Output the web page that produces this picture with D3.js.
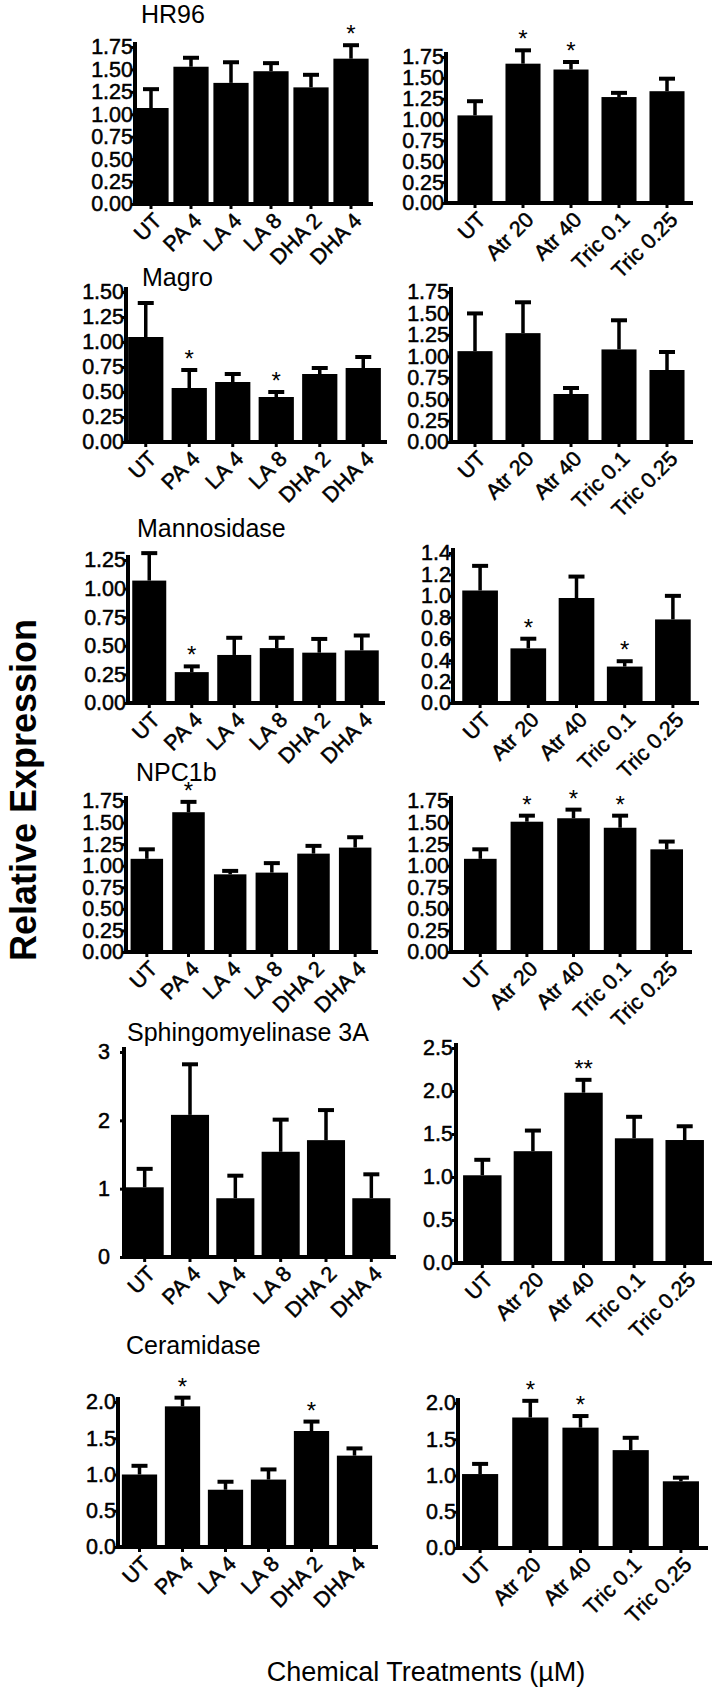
<!DOCTYPE html>
<html><head><meta charset="utf-8">
<script src="https://cdn.jsdelivr.net/npm/d3@7"></script>
<style>
html,body{margin:0;padding:0;background:#fff;}
svg text{font-family:"Liberation Sans",Arial,sans-serif;fill:#000;}
</style></head>
<body>
<script>
// ---------- DATA ----------
const leftCats  = ["UT","PA 4","LA 4","LA 8","DHA 2","DHA 4"];
const rightCats = ["UT","Atr 20","Atr 40","Tric 0.1","Tric 0.25"];
const genes = ["HR96","Magro","Mannosidase","NPC1b","Sphingomyelinase 3A","Ceramidase"];

const ticks175 = [0,0.25,0.5,0.75,1,1.25,1.5,1.75];
const ticks150 = [0,0.25,0.5,0.75,1,1.25,1.5];
const ticks125 = [0,0.25,0.5,0.75,1,1.25];
const ticks14  = [0,0.2,0.4,0.6,0.8,1.0,1.2,1.4];
const ticks3   = [0,1,2,3];
const ticks25  = [0,0.5,1,1.5,2,2.5];
const ticks20  = [0,0.5,1,1.5,2];

const hr96LeftMean  = [1.07,1.53,1.35,1.48,1.30,1.62];
const hr96LeftSem   = [0.21,0.10,0.23,0.09,0.14,0.15];
const hr96LeftSig   = ["","","","","","*"];
const hr96RightMean = [1.05,1.67,1.60,1.27,1.34];
const hr96RightSem  = [0.17,0.16,0.09,0.05,0.15];
const hr96RightSig  = ["","*","*","",""];

const magroLeftMean  = [1.05,0.54,0.60,0.45,0.68,0.74];
const magroLeftSem   = [0.34,0.18,0.08,0.05,0.06,0.11];
const magroLeftSig   = ["","*","","*","",""];
const magroRightMean = [1.06,1.27,0.56,1.08,0.84];
const magroRightSem  = [0.44,0.36,0.07,0.34,0.21];
const magroRightSig  = ["","","","",""];

const mannoLeftMean  = [1.07,0.27,0.42,0.48,0.44,0.46];
const mannoLeftSem   = [0.24,0.05,0.15,0.09,0.12,0.13];
const mannoLeftSig   = ["","*","","","",""];
const mannoRightMean = [1.05,0.51,0.98,0.34,0.78];
const mannoRightSem  = [0.23,0.09,0.20,0.05,0.22];
const mannoRightSig  = ["","*","","*",""];

const npcLeftMean  = [1.08,1.62,0.90,0.92,1.14,1.21];
const npcLeftSem   = [0.11,0.12,0.04,0.11,0.09,0.12];
const npcLeftSig   = ["","*","","","",""];
const npcRightMean = [1.08,1.51,1.55,1.44,1.19];
const npcRightSem  = [0.11,0.07,0.10,0.14,0.09];
const npcRightSig  = ["","*","*","*",""];

const sphLeftMean  = [1.02,2.08,0.86,1.54,1.71,0.86];
const sphLeftSem   = [0.27,0.74,0.33,0.47,0.44,0.35];
const sphLeftSig   = ["","","","","",""];
const sphRightMean = [1.02,1.30,1.98,1.45,1.43];
const sphRightSem  = [0.18,0.24,0.15,0.25,0.16];
const sphRightSig  = ["","","**","",""];

const cerLeftMean  = [1.00,1.94,0.79,0.93,1.60,1.26];
const cerLeftSem   = [0.12,0.12,0.11,0.14,0.13,0.10];
const cerLeftSig   = ["","*","","","*",""];
const cerRightMean = [1.02,1.80,1.66,1.35,0.92];
const cerRightSem  = [0.14,0.23,0.16,0.17,0.05];
const cerRightSig  = ["","*","*","",""];

// ---------- DRAW ----------
const W = 718, H = 1689;
const svg = d3.select("body").append("svg").attr("width",W).attr("height",H);
svg.append("rect").attr("width",W).attr("height",H).attr("fill","#fff");

function panel(c){
  const x = d3.scaleBand().domain(c.cats).range([c.b0,c.b1]).paddingInner(c.pad).paddingOuter(c.pad/2);
  const y = d3.scaleLinear().domain([0, c.ticks[c.ticks.length-1]]).range([c.yBase, c.yTop]);
  const g = svg.append("g");
  const rows = c.cats.map((k,i)=>({k, m:c.mean[i], s:c.sem[i], sig:c.sig[i]}));
  const cx = d => x(d.k)+x.bandwidth()/2;

  // error bars (upper whisker only)
  g.selectAll("line.eb").data(rows).join("line")
    .attr("x1",cx).attr("x2",cx)
    .attr("y1",d=>y(d.m)).attr("y2",d=>y(d.m+d.s))
    .attr("stroke","#000").attr("stroke-width",3.5);
  g.selectAll("line.cap").data(rows).join("line")
    .attr("x1",d=>cx(d)-8).attr("x2",d=>cx(d)+8)
    .attr("y1",d=>y(d.m+d.s)).attr("y2",d=>y(d.m+d.s))
    .attr("stroke","#000").attr("stroke-width",4);
  // bars
  g.selectAll("rect.bar").data(rows).join("rect")
    .attr("x",d=>x(d.k)).attr("y",d=>y(d.m))
    .attr("width",x.bandwidth()).attr("height",d=>y(0)-y(d.m))
    .attr("fill","#000");
  // significance stars
  g.selectAll("text.sig").data(rows.filter(d=>d.sig)).join("text")
    .attr("x",cx).attr("y",d=>y(d.m+d.s)-3)
    .attr("text-anchor","middle").attr("font-size",24).text(d=>d.sig);

  // y axis
  const ya = d3.axisLeft(y).tickValues(c.ticks).tickFormat(d3.format(c.fmt))
    .tickSizeInner(4).tickSizeOuter(0).tickPadding(c.tp);
  const yg = g.append("g").attr("transform",`translate(${c.ax},0)`).call(ya);
  yg.select(".domain").remove();
  yg.selectAll(".tick line").attr("stroke","#000").attr("stroke-width",3);
  yg.selectAll(".tick text").attr("font-size",21.5).attr("fill","#000")
    .attr("stroke","#000").attr("stroke-width",0.5);
  g.append("line").attr("x1",c.ax).attr("x2",c.ax)
    .attr("y1",y(0)+2).attr("y2",y.range()[1]-5)
    .attr("stroke","#000").attr("stroke-width",4);

  // x axis
  const xa = d3.axisBottom(x).tickSizeInner(5).tickSizeOuter(0).tickFormat("");
  const xg = g.append("g").attr("transform",`translate(0,${y(0)})`).call(xa);
  xg.select(".domain").remove();
  xg.selectAll(".tick line").attr("stroke","#000").attr("stroke-width",3);
  g.append("line").attr("x1",c.ax).attr("x2",c.b1+2)
    .attr("y1",y(0)).attr("y2",y(0)).attr("stroke","#000").attr("stroke-width",4);

  // rotated category labels
  g.selectAll("text.cat").data(c.cats).join("text")
    .attr("text-anchor","end").attr("font-size",21.5)
    .attr("stroke","#000").attr("stroke-width",0.5)
    .attr("transform",d=>`translate(${x(d)+x.bandwidth()/2+12},${y(0)+18}) rotate(-45)`)
    .text(d=>d);

  if(c.title){
    svg.append("text").attr("x",c.tx).attr("y",c.ty).attr("font-size",25).text(c.title);
  }
}

const panels = [
  {title:genes[0],tx:141,ty:23, cats:leftCats,mean:hr96LeftMean,sem:hr96LeftSem,sig:hr96LeftSig,ticks:ticks175,fmt:".2f",
   ax:135,b0:131,b1:371,pad:0.12,yTop:47,yBase:204,tp:-2},
  {cats:rightCats,mean:hr96RightMean,sem:hr96RightSem,sig:hr96RightSig,ticks:ticks175,fmt:".2f",
   ax:446,b0:451,b1:691,pad:0.27,yTop:57,yBase:203,tp:-2},

  {title:genes[1],tx:142,ty:286, cats:leftCats,mean:magroLeftMean,sem:magroLeftSem,sig:magroLeftSig,ticks:ticks150,fmt:".2f",
   ax:126,b0:124,b1:385,pad:0.19,yTop:292,yBase:442,tp:-2},
  {cats:rightCats,mean:magroRightMean,sem:magroRightSem,sig:magroRightSig,ticks:ticks175,fmt:".2f",
   ax:451,b0:451,b1:691,pad:0.27,yTop:292,yBase:442,tp:-2},

  {title:genes[2],tx:137,ty:537, cats:leftCats,mean:mannoLeftMean,sem:mannoLeftSem,sig:mannoLeftSig,ticks:ticks125,fmt:".2f",
   ax:128,b0:128,b1:383,pad:0.2,yTop:560,yBase:703,tp:-2},
  {cats:rightCats,mean:mannoRightMean,sem:mannoRightSem,sig:mannoRightSig,ticks:ticks14,fmt:".1f",
   ax:453,b0:456,b1:697,pad:0.26,yTop:553,yBase:703,tp:-2},

  {title:genes[3],tx:136,ty:781, cats:leftCats,mean:npcLeftMean,sem:npcLeftSem,sig:npcLeftSig,ticks:ticks175,fmt:".2f",
   ax:126,b0:126,b1:376,pad:0.22,yTop:801,yBase:952,tp:-2},
  {cats:rightCats,mean:npcRightMean,sem:npcRightSem,sig:npcRightSig,ticks:ticks175,fmt:".2f",
   ax:451,b0:457,b1:690,pad:0.3,yTop:801,yBase:952,tp:-2},

  {title:genes[4],tx:127,ty:1041, cats:leftCats,mean:sphLeftMean,sem:sphLeftSem,sig:sphLeftSig,ticks:ticks3,fmt:"d",
   ax:124,b0:122,b1:394,pad:0.16,yTop:1052,yBase:1257,tp:10},
  {cats:rightCats,mean:sphRightMean,sem:sphRightSem,sig:sphRightSig,ticks:ticks25,fmt:".1f",
   ax:456,b0:457,b1:710,pad:0.24,yTop:1048,yBase:1263,tp:-1},

  {title:genes[5],tx:126,ty:1354, cats:leftCats,mean:cerLeftMean,sem:cerLeftSem,sig:cerLeftSig,ticks:ticks20,fmt:".1f",
   ax:118,b0:118,b1:376,pad:0.18,yTop:1402,yBase:1547,tp:-2},
  {cats:rightCats,mean:cerRightMean,sem:cerRightSem,sig:cerRightSig,ticks:ticks20,fmt:".1f",
   ax:458,b0:455,b1:706,pad:0.28,yTop:1403,yBase:1548,tp:-2}
];
panels.forEach(panel);

// axis titles
svg.append("text").attr("transform","translate(36,790) rotate(-90)")
  .attr("text-anchor","middle").attr("font-size",36).attr("font-weight","bold")
  .text("Relative Expression");
svg.append("text").attr("x",426).attr("y",1681).attr("text-anchor","middle")
  .attr("font-size",27).text("Chemical Treatments (µM)");
</script>
</body></html>
